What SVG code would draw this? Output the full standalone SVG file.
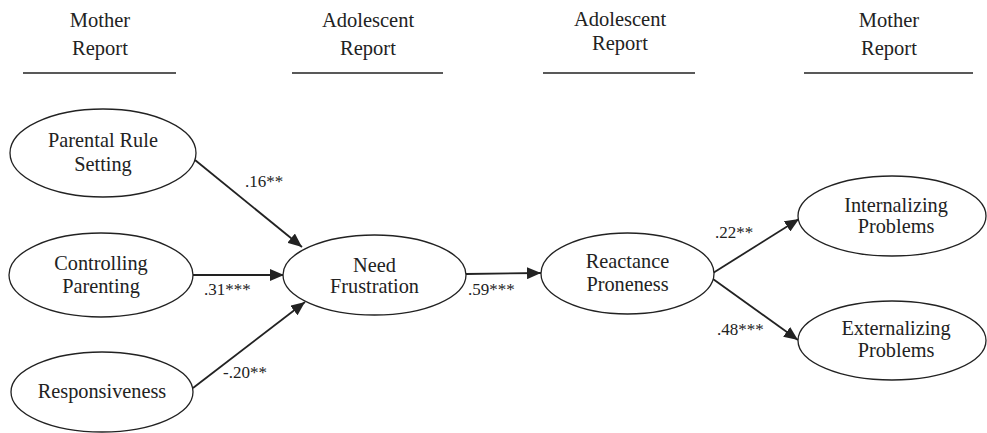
<svg xmlns="http://www.w3.org/2000/svg" width="987" height="433" viewBox="0 0 987 433" font-family="Liberation Serif, serif">
<style>
text{fill:#222;}
.h{font-size:20.5px;text-anchor:middle;}
.n{font-size:20.3px;text-anchor:middle;}
.l{font-size:17px;}
.rule{stroke:#222;stroke-width:1.5;}
ellipse{fill:#fff;stroke:#222;stroke-width:1.3;}
.c{stroke:#222;stroke-width:1.8;fill:none;marker-end:url(#ah);}
</style>
<defs>
<marker id="ah" markerUnits="userSpaceOnUse" markerWidth="14" markerHeight="12" refX="14" refY="6" orient="auto">
<path d="M0,0 L14,6 L0,12 Z" fill="#222"/>
</marker>
</defs>
<rect width="987" height="433" fill="#fff"/>
<g id="headers">
<text class="h" x="100" y="27">Mother</text>
<text class="h" x="100" y="55">Report</text>
<line class="rule" x1="23" y1="73" x2="176" y2="73"/>
<text class="h" x="368" y="27">Adolescent</text>
<text class="h" x="368" y="55">Report</text>
<line class="rule" x1="292" y1="73" x2="443" y2="73"/>
<text class="h" x="620" y="26">Adolescent</text>
<text class="h" x="620" y="50">Report</text>
<line class="rule" x1="543" y1="73" x2="695" y2="73"/>
<text class="h" x="889" y="27">Mother</text>
<text class="h" x="889" y="55">Report</text>
<line class="rule" x1="804" y1="73" x2="973" y2="73"/>
</g>
<g id="connectors">
<line class="c" x1="195" y1="160" x2="302" y2="247"/>
<line class="c" x1="193" y1="275" x2="284" y2="275"/>
<line class="c" x1="193" y1="388" x2="305" y2="302"/>
<line class="c" x1="466" y1="274" x2="541" y2="273"/>
<line class="c" x1="713" y1="273" x2="799" y2="219"/>
<line class="c" x1="713" y1="279" x2="798" y2="340"/>
<text class="l" x="245" y="187">.16**</text>
<text class="l" x="204" y="295">.31***</text>
<text class="l" x="223" y="378">-.20**</text>
<text class="l" x="468" y="295">.59***</text>
<text class="l" x="715" y="238">.22**</text>
<text class="l" x="717" y="335">.48***</text>
</g>
<g id="parental-rule-setting">
<ellipse cx="103" cy="153" rx="93" ry="44"/>
<text class="n" x="103" y="147">Parental Rule</text>
<text class="n" x="103" y="171">Setting</text>
</g>
<g id="controlling-parenting">
<ellipse cx="101" cy="275" rx="92" ry="42"/>
<text class="n" x="101" y="270">Controlling</text>
<text class="n" x="101" y="293">Parenting</text>
</g>
<g id="responsiveness">
<ellipse cx="102" cy="392" rx="91" ry="40"/>
<text class="n" x="102" y="398">Responsiveness</text>
</g>
<g id="need-frustration">
<ellipse cx="374.5" cy="275" rx="91.5" ry="40"/>
<text class="n" x="374.5" y="272">Need</text>
<text class="n" x="374.5" y="293">Frustration</text>
</g>
<g id="reactance-proneness">
<ellipse cx="627.5" cy="273.5" rx="86.5" ry="40.5"/>
<text class="n" x="627.5" y="268">Reactance</text>
<text class="n" x="627.5" y="291">Proneness</text>
</g>
<g id="internalizing-problems">
<ellipse cx="892" cy="216" rx="94" ry="40"/>
<text class="n" x="896" y="212">Internalizing</text>
<text class="n" x="896" y="233">Problems</text>
</g>
<g id="externalizing-problems">
<ellipse cx="892" cy="340.5" rx="94" ry="39.5"/>
<text class="n" x="896" y="335">Externalizing</text>
<text class="n" x="896" y="357">Problems</text>
</g>
</svg>
